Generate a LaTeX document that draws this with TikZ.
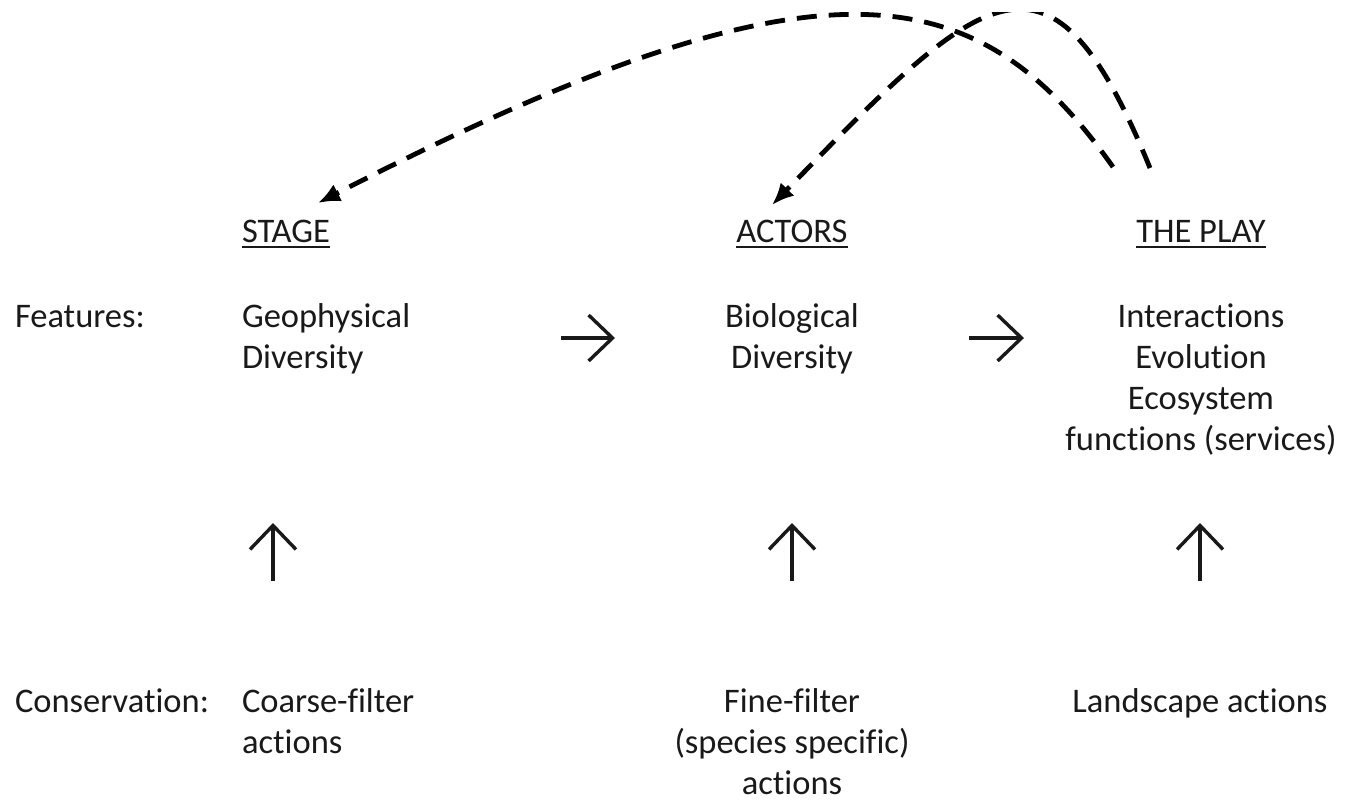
\documentclass[tikz,border=0pt]{standalone}
\usepackage{fontspec}
\setmainfont{Carlito}[Ligatures=NoCommon]
\usetikzlibrary{arrows.meta}
\begin{document}
\begin{tikzpicture}[x=1pt,y=-1pt,
  txt/.style={inner sep=0pt, outer sep=0pt, font=\fontsize{34.5}{41}\selectfont, text=black!90},
  uline/.style={line width=2.4pt, black!90},
  glyph/.style={line width=3.4pt, black!90, -{Straight Barb[length=24pt,width=46pt]}},
  dconn/.style={line width=4.8pt, black, dash pattern=on 20pt off 12pt, -{Latex[length=22pt,width=19pt]}}]
\useasboundingbox (0,0) rectangle (1354,801);

% headers
\node[txt, anchor=base west] (stage) at (242,242) {STAGE};
\node[txt, anchor=base] (actors) at (792,242) {ACTORS};
\node[txt, anchor=base] (play) at (1201,242) {THE PLAY};
\draw[uline] ([yshift=-5pt]stage.base west) -- ([yshift=-5pt]stage.base east);
\draw[uline] ([yshift=-5pt]actors.base west) -- ([yshift=-5pt]actors.base east);
\draw[uline] ([yshift=-5pt]play.base west) -- ([yshift=-5pt]play.base east);

% features row (anchor = baseline of the last line)
\node[txt, anchor=base west] (feat) at (15,327) {Features:};
\node[txt, anchor=base west, align=left] (geo) at (242,368) {Geophysical\\Diversity};
\node[txt, anchor=base, align=center] (bio) at (792,368) {Biological\\Diversity};
\node[txt, anchor=base, align=center] (inter) at (1201,450) {Interactions\\Evolution\\Ecosystem\\functions (services)};

% conservation row
\node[txt, anchor=base west] (cons) at (15,712) {Conservation:};
\node[txt, anchor=base west, align=left] (coarse) at (242,753) {Coarse-filter\\actions};
\node[txt, anchor=base, align=center] (fine) at (792,794) {Fine-filter\\(species specific)\\actions};
\node[txt, anchor=base, align=center] (land) at (1200,712) {Landscape actions};

% glyph arrows
\coordinate (r1a) at (561,338); \coordinate (r1b) at (615,338);
\coordinate (r2a) at (969,338); \coordinate (r2b) at (1024,338);
\coordinate (u1a) at (273,581); \coordinate (u1b) at (273,523);
\coordinate (u2a) at (792,581); \coordinate (u2b) at (792,523);
\coordinate (u3a) at (1200,581); \coordinate (u3b) at (1200,523);
\draw[glyph] (r1a) -- (r1b);
\draw[glyph] (r2a) -- (r2b);
\draw[glyph] (u1a) -- (u1b);
\draw[glyph] (u2a) -- (u2b);
\draw[glyph] (u3a) -- (u3b);

% dashed feedback curves
\coordinate (p1s) at (1113,167); \coordinate (p1e) at (318,203);
\coordinate (p2s) at (1150,168); \coordinate (p2e) at (772,205);
\begin{scope}
\clip (0,12) rectangle (1354,801);
\draw[dconn] (p1s) .. controls (978,-24) and (825,-58) .. (p1e);
\draw[dconn] (p2s) .. controls (1050,-77) and (985,-14) .. (p2e);
\end{scope}
\end{tikzpicture}
\end{document}
